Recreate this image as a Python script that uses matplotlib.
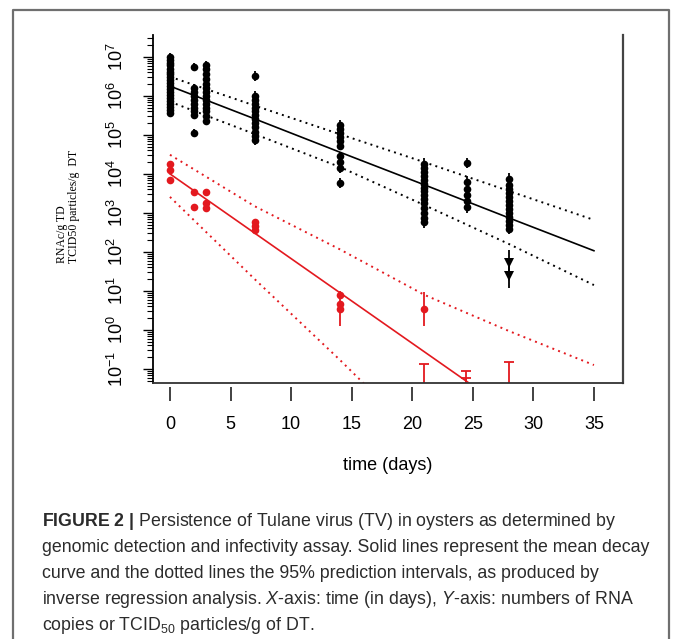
import numpy as np
import matplotlib.pyplot as plt
from matplotlib.lines import Line2D
from matplotlib.ticker import LogLocator, FixedLocator, NullFormatter

plt.rcParams['font.family'] = 'Liberation Sans'
plt.rcParams['mathtext.fontset'] = 'custom'
plt.rcParams['mathtext.rm'] = 'Liberation Sans'
plt.rcParams['mathtext.it'] = 'Liberation Sans:italic'
plt.rcParams['mathtext.bf'] = 'Liberation Sans:bold'

# ---- data, all values are log10 ----
# genomic detection (RNA copies/g), black
black_day = [0, 2, 3, 7, 14, 21, 24.5, 28]
black_val = [
    [7.0, 6.92, 6.85, 6.78, 6.7, 6.62, 6.55, 6.48, 6.4, 6.33, 6.25, 6.18, 6.1,
     6.02, 5.95, 5.88, 5.8, 5.72, 5.64, 5.55],
    [6.74, 6.2, 6.1, 6.0, 5.9, 5.8, 5.7, 5.6, 5.5, 5.05],
    [6.8, 6.68, 6.55, 6.42, 6.3, 6.2, 6.1, 6.0, 5.9, 5.8, 5.7, 5.6, 5.48, 5.36],
    [6.51, 6.0, 5.9, 5.8, 5.7, 5.6, 5.5, 5.4, 5.3, 5.2, 5.08, 4.97, 4.87],
    [5.25, 5.15, 5.05, 4.95, 4.85, 4.72, 4.45, 4.3, 4.15, 3.77],
    [4.26, 4.15, 4.05, 3.95, 3.85, 3.75, 3.65, 3.55, 3.45, 3.35, 3.25, 3.12,
     3.0, 2.88, 2.77],
    [4.28, 3.8, 3.62, 3.45, 3.3, 3.15],
    [3.87, 3.72, 3.6, 3.5, 3.4, 3.3, 3.2, 3.1, 3.0, 2.9, 2.8, 2.7, 2.6],
]
black_err = [0.1, 0.1, 0.1, 0.12, 0.12, 0.15, 0.14, 0.15]
# lowest day-28 samples (triangles)
black_low_day = [28, 28]
black_low_val = [1.72, 1.38]
black_low_err = [0.33, 0.3]

# infectivity (TCID50/g), red
red_day = [0, 0, 0, 2, 2, 3, 3, 3, 7, 7, 7, 14, 14, 14, 21]
red_val = [4.26, 4.10, 3.85, 3.54, 3.15, 3.54, 3.26, 3.13, 2.77, 2.67, 2.56,
           0.9, 0.67, 0.54, 0.54]
red_lo = [0.03, 0.03, 0.03, 0.03, 0.03, 0.03, 0.03, 0.03, 0.03, 0.03, 0.03,
          0.05, 0.05, 0.44, 0.44]
red_hi = [0.03, 0.03, 0.03, 0.03, 0.03, 0.03, 0.03, 0.03, 0.03, 0.03, 0.03,
          0.05, 0.05, 0.46, 0.43]
# bars whose mean is below the axis (only top part visible)
red_nd_day = [21, 24.4, 24.4, 28]
red_nd_top = [-0.87, -1.05, -1.23, -0.82]

# regression lines (mean and 95% prediction interval)
line_day = [0, 7, 14, 21, 28, 35]
black_mean = [6.25, 5.41, 4.56, 3.72, 2.87, 2.03]
black_upper = [6.49, 5.75, 5.02, 4.3, 3.56, 2.82]
black_lower = [5.85, 5.02, 4.18, 3.2, 2.2, 1.15]
red_mean = [4.0, 2.48, 0.96, -0.56, -2.08, -3.6]
red_upper = [4.49, 3.17, 2.07, 0.9, -0.03, -0.9]
red_lower = [3.41, 1.3, -0.76, -2.9, -5.0, -7.0]

RED = '#e3191f'

fig = plt.figure(figsize=(6.73, 6.39), dpi=100)
ax = fig.add_axes([153/673, 1-383/639, (623-153)/673, (383-35)/639])
ax.set_yscale('log')


def bars(x, v, lo, hi, color, marker, ms):
    v = np.asarray(v, float)
    lo = np.asarray(lo, float)
    hi = np.asarray(hi, float)
    y = 10**v
    yerr = [y - 10**(v - lo), 10**(v + hi) - y]
    ax.errorbar(x, y, yerr=yerr, fmt=marker, color=color, ms=ms,
                elinewidth=1.3, capsize=3.4, capthick=1.3, mew=0)


for d, vals, e in zip(black_day, black_val, black_err):
    n = len(vals)
    bars([d]*n, vals, [e]*n, [e]*n, 'black', 'o', 5.5)
bars(black_low_day, black_low_val, black_low_err, black_low_err, 'black', 'v', 6.5)

bars(red_day, red_val, red_lo, red_hi, RED, 'o', 5.5)
nd = np.array(red_nd_top)
ax.errorbar(red_nd_day, 10**(nd - 1.5), yerr=[np.zeros_like(nd), 10**nd - 10**(nd - 1.5)],
            fmt='none', ecolor=RED, elinewidth=1.3, capsize=3.4, capthick=1.3)

dot = (0, (1, 2.2))
ax.plot(line_day, 10**np.array(black_mean), color='black', lw=1.2)
ax.plot(line_day, 10**np.array(black_upper), color='black', lw=1.4, ls=dot)
ax.plot(line_day, 10**np.array(black_lower), color='black', lw=1.4, ls=dot)
ax.plot(line_day, 10**np.array(red_mean), color=RED, lw=1.2)
ax.plot(line_day, 10**np.array(red_upper), color=RED, lw=1.4, ls=dot)
ax.plot(line_day, 10**np.array(red_lower), color=RED, lw=1.4, ls=dot)

ax.set_xlim(-1.4, 37.4)
ax.set_ylim(10**-1.36, 10**7.56)

# y axis: log ticks, rotated labels
ax.yaxis.set_major_locator(FixedLocator([10.0**k for k in range(-1, 8)]))
ax.set_yticklabels([r'$10^{%d}$' % k for k in range(-1, 8)], rotation=90,
                   va='center', fontsize=13)
ax.yaxis.set_minor_locator(LogLocator(base=10, subs=np.arange(2, 10), numticks=20))
ax.yaxis.set_minor_formatter(NullFormatter())
ax.tick_params(axis='y', which='major', length=7, width=1, pad=12)
ax.tick_params(axis='y', which='minor', length=4, width=0.8)

# x axis: ticks detached from the box
ax.tick_params(axis='x', which='both', bottom=False, labelbottom=False)
sec = ax.secondary_xaxis(-0.011)
sec.set_xticks([0, 5, 10, 15, 20, 25, 30, 35])
sec.spines['bottom'].set_visible(False)
sec.tick_params(axis='x', length=10, width=1.3, pad=11, labelsize=13, color='#333333')

ax.spines['top'].set_visible(False)
ax.spines['right'].set_color('#444444')
ax.spines['right'].set_linewidth(1.6)
ax.spines['left'].set_linewidth(1.3)
ax.spines['bottom'].set_linewidth(1.3)
ax.spines['bottom'].set_color('#333333')

fig.text(388/673, 1-465/639, 'time (days)', ha='center', va='center', fontsize=13)
fig.text(62/673, 1-263/639, 'RNAc/g TD', rotation=90, ha='center', va='bottom',
         family='Liberation Serif', fontsize=8.5)
fig.text(74/673, 1-263/639, 'TCID50 particles/g  DT', rotation=90, ha='center',
         va='bottom', family='Liberation Serif', fontsize=8.5)

caption = [
    r'$\mathbf{FIGURE\ 2\ |}$ Persistence of Tulane virus (TV) in oysters as determined by',
    'genomic detection and infectivity assay. Solid lines represent the mean decay',
    'curve and the dotted lines the 95% prediction intervals, as produced by',
    r'inverse regression analysis. $\mathit{X}$-axis: time (in days), $\mathit{Y}$-axis: numbers of RNA',
    r'copies or TCID$_{50}$ particles/g of DT.',
]
for i, line in enumerate(caption):
    fig.text(42/673, 1-(521 + 26*i)/639, line, ha='left', va='center',
             fontsize=12.8, color='#2b2b2b')

# outer frame
fig.add_artist(Line2D([13/673, 13/673, 669/673, 669/673],
                      [0, 1-10/639, 1-10/639, 0], color='#6f6f6f', lw=1.6,
                      transform=fig.transFigure))

fig.savefig('out.png', dpi=100)
